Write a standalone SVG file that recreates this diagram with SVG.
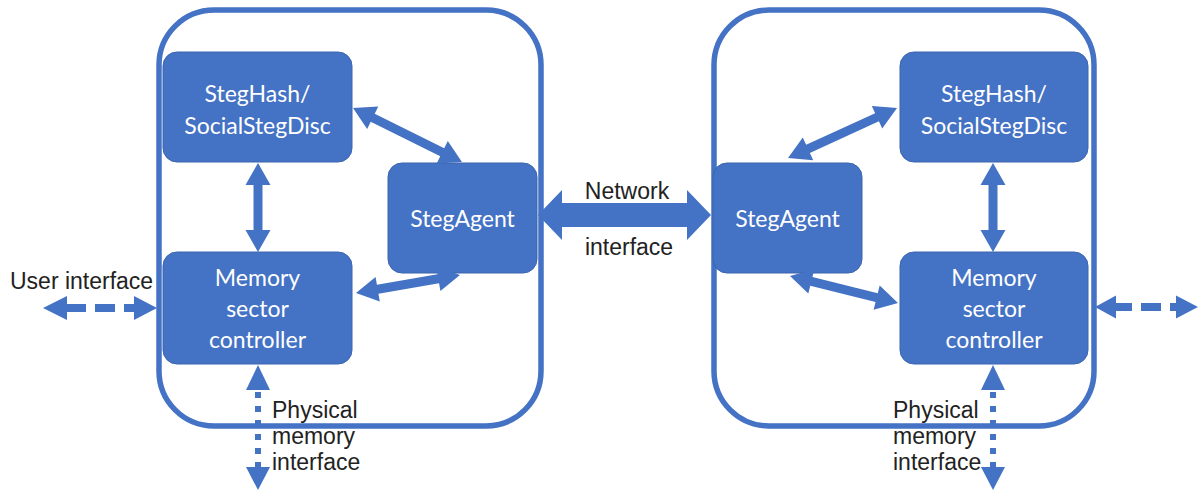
<svg xmlns="http://www.w3.org/2000/svg" width="1200" height="490" viewBox="0 0 1200 490">
<style>
.cont{fill:none;stroke:#4472C4;stroke-width:5.5}
.box{fill:#4472C4;stroke:#3B64AD;stroke-width:1}
.wt{font-family:Lato,"Open Sans",sans-serif;font-size:23px;fill:#fff;text-anchor:middle}
.bt{font-family:"Liberation Sans",Arial,sans-serif;font-size:23px;fill:#222}
.arr{fill:#4472C4}
.dash{stroke:#4472C4;stroke-width:8;fill:none;stroke-dasharray:20 9}
.dot{stroke:#4472C4;stroke-width:6;fill:none;stroke-dasharray:6 8}
</style>
<rect width="1200" height="490" fill="#fff"/>
<g id="left-container"><rect class="cont" x="159" y="10" width="382" height="416" rx="55"/></g>
<g id="right-container"><rect class="cont" x="714" y="10" width="380" height="416" rx="55"/></g>

<g id="L-steghash"><rect class="box" x="163" y="52" width="189" height="110" rx="14"/>
<text class="wt" x="257.5" y="102">StegHash/</text><text class="wt" x="257.5" y="134">SocialStegDisc</text></g>
<g id="L-memory"><rect class="box" x="163" y="252" width="189" height="112" rx="14"/>
<text class="wt" x="257.5" y="286">Memory</text><text class="wt" x="257.5" y="317">sector</text><text class="wt" x="257.5" y="348">controller</text></g>
<g id="L-stegagent"><rect class="box" x="388" y="163" width="149" height="110" rx="14"/>
<text class="wt" x="462.5" y="227">StegAgent</text></g>

<g id="R-stegagent"><rect class="box" x="713" y="163" width="149" height="110" rx="14"/>
<text class="wt" x="787.5" y="227">StegAgent</text></g>
<g id="R-steghash"><rect class="box" x="900" y="52" width="188" height="110" rx="14"/>
<text class="wt" x="994" y="102">StegHash/</text><text class="wt" x="994" y="134">SocialStegDisc</text></g>
<g id="R-memory"><rect class="box" x="900" y="252" width="188" height="112" rx="14"/>
<text class="wt" x="994" y="286">Memory</text><text class="wt" x="994" y="317">sector</text><text class="wt" x="994" y="348">controller</text></g>

<g id="connectors">
<path class="arr" transform="translate(258,163) rotate(90)" d="M0,0 L22,-12.5 L22,-4.5 L67,-4.5 L67,-12.5 L89,0 L67,12.5 L67,4.5 L22,4.5 L22,12.5 Z"/>
<path class="arr" transform="translate(353,108) rotate(26.35)" d="M0,0 L22,-12.5 L22,-4.5 L99.6,-4.5 L99.6,-12.5 L121.6,0 L99.6,12.5 L99.6,4.5 L22,4.5 L22,12.5 Z"/>
<path class="arr" transform="translate(356,293) rotate(-9.8)" d="M0,0 L22,-12.5 L22,-4.5 L83.5,-4.5 L83.5,-12.5 L105.5,0 L83.5,12.5 L83.5,4.5 L22,4.5 L22,12.5 Z"/>
<path class="arr" transform="translate(538,215)" d="M0,0 L24,-25 L24,-12 L149,-12 L149,-25 L173,0 L149,25 L149,12 L24,12 L24,25 Z"/>
<path class="arr" transform="translate(788,158) rotate(-24.6)" d="M0,0 L22,-12.5 L22,-4.5 L97.9,-4.5 L97.9,-12.5 L119.9,0 L97.9,12.5 L97.9,4.5 L22,4.5 L22,12.5 Z"/>
<path class="arr" transform="translate(790,276) rotate(14)" d="M0,0 L22,-12.5 L22,-4.5 L89.3,-4.5 L89.3,-12.5 L111.3,0 L89.3,12.5 L89.3,4.5 L22,4.5 L22,12.5 Z"/>
<path class="arr" transform="translate(993,163) rotate(90)" d="M0,0 L22,-12.5 L22,-4.5 L67,-4.5 L67,-12.5 L89,0 L67,12.5 L67,4.5 L22,4.5 L22,12.5 Z"/>

<line class="dash" x1="66" y1="308" x2="137" y2="308"/>
<polygon class="arr" points="43,308 67,296 67,320"/>
<polygon class="arr" points="157,308 134,296 134,320"/>

<line class="dash" x1="1112" y1="307" x2="1177" y2="307"/>
<polygon class="arr" points="1095,307 1116,295.5 1116,318.5"/>
<polygon class="arr" points="1198,307 1176,295.5 1176,318.5"/>

<line class="dot" x1="258" y1="392" x2="258" y2="468"/>
<polygon class="arr" points="258,365 270,390 246,390"/>
<polygon class="arr" points="258,490 270,467 246,467"/>

<line class="dot" x1="993" y1="392" x2="993" y2="468"/>
<polygon class="arr" points="993,365 1005,390 981,390"/>
<polygon class="arr" points="993,490 1005,467 981,467"/>
</g>

<text class="bt" x="10" y="289">User interface</text>
<text class="bt" x="627" y="199" text-anchor="middle">Network</text>
<text class="bt" x="629" y="255" text-anchor="middle">interface</text>
<text class="bt" x="272" y="418">Physical</text>
<text class="bt" x="272" y="444">memory</text>
<text class="bt" x="272" y="470">interface</text>
<text class="bt" x="893" y="418">Physical</text>
<text class="bt" x="893" y="444">memory</text>
<text class="bt" x="893" y="470">interface</text>
</svg>
